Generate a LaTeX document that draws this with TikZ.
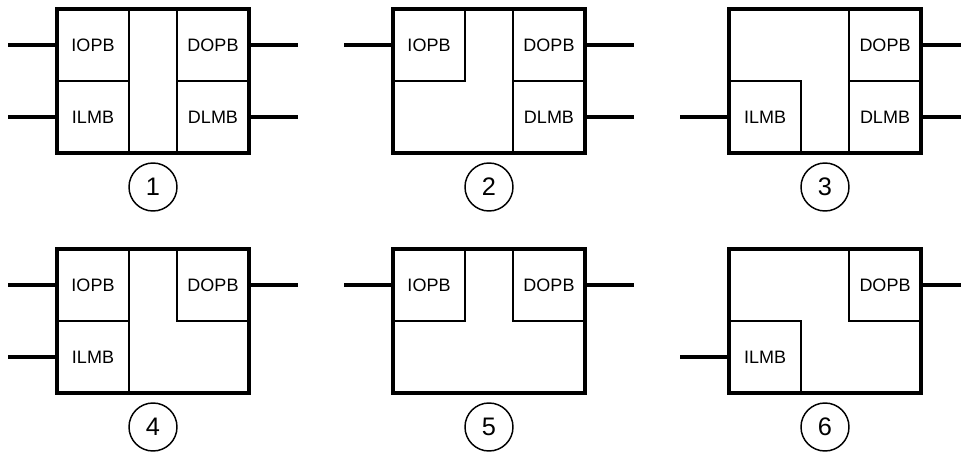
\documentclass[tikz,border=0pt]{standalone}
\usepackage{fontspec}
\setmainfont{Liberation Sans}
\usetikzlibrary{positioning}

\begin{document}
\begin{tikzpicture}[x=0.75pt, y=-0.75pt,
    cell/.style={draw, line width=1.5pt, minimum width=54pt, minimum height=54pt,
                 inner sep=0pt, outer sep=0pt, font=\fontsize{13.5}{15}\selectfont},
    frame/.style={draw, line width=2.5pt, minimum width=144pt, minimum height=108pt,
                  inner sep=0pt, outer sep=0pt},
    lead/.style={line width=2.3pt},
    num/.style={draw, circle, line width=1.1pt, minimum size=36pt, inner sep=0pt,
                font=\fontsize{19}{21}\selectfont}]
    \clip (0,0) rectangle (961,454);

    % Panel 1
    \begin{scope}[shift={(57,9)}]
        \node[cell] (iopb1) at (36,36) {IOPB};
        \node[cell] (ilmb1) at (36,108) {ILMB};
        \node[cell] (dopb1) at (156,36) {DOPB};
        \node[cell] (dlmb1) at (156,108) {DLMB};
        \node[frame] (box1) at (96,72) {};
        \node[num] (n1) at (96,178) {1};
        \coordinate[left=36.75pt of iopb1] (ia1);
        \coordinate[left=36.75pt of ilmb1] (ib1);
        \coordinate[right=36.75pt of dopb1] (oa1);
        \coordinate[right=36.75pt of dlmb1] (ob1);
        \draw[lead] (ia1) -- (iopb1);
        \draw[lead] (ib1) -- (ilmb1);
        \draw[lead] (dopb1) -- (oa1);
        \draw[lead] (dlmb1) -- (ob1);
    \end{scope}

    % Panel 2
    \begin{scope}[shift={(393,9)}]
        \node[cell] (iopb2) at (36,36) {IOPB};
        \node[cell] (dopb2) at (156,36) {DOPB};
        \node[cell] (dlmb2) at (156,108) {DLMB};
        \node[frame] (box2) at (96,72) {};
        \node[num] (n2) at (96,178) {2};
        \coordinate[left=36.75pt of iopb2] (ia2);
        \coordinate[right=36.75pt of dopb2] (oa2);
        \coordinate[right=36.75pt of dlmb2] (ob2);
        \draw[lead] (ia2) -- (iopb2);
        \draw[lead] (dopb2) -- (oa2);
        \draw[lead] (dlmb2) -- (ob2);
    \end{scope}

    % Panel 3
    \begin{scope}[shift={(729,9)}]
        \node[cell] (ilmb3) at (36,108) {ILMB};
        \node[cell] (dopb3) at (156,36) {DOPB};
        \node[cell] (dlmb3) at (156,108) {DLMB};
        \node[frame] (box3) at (96,72) {};
        \node[num] (n3) at (96,178) {3};
        \coordinate[left=36.75pt of ilmb3] (ib3);
        \coordinate[right=36.75pt of dopb3] (oa3);
        \coordinate[right=36.75pt of dlmb3] (ob3);
        \draw[lead] (ib3) -- (ilmb3);
        \draw[lead] (dopb3) -- (oa3);
        \draw[lead] (dlmb3) -- (ob3);
    \end{scope}

    % Panel 4
    \begin{scope}[shift={(57,249)}]
        \node[cell] (iopb4) at (36,36) {IOPB};
        \node[cell] (ilmb4) at (36,108) {ILMB};
        \node[cell] (dopb4) at (156,36) {DOPB};
        \node[frame] (box4) at (96,72) {};
        \node[num] (n4) at (96,178) {4};
        \coordinate[left=36.75pt of iopb4] (ia4);
        \coordinate[left=36.75pt of ilmb4] (ib4);
        \coordinate[right=36.75pt of dopb4] (oa4);
        \draw[lead] (ia4) -- (iopb4);
        \draw[lead] (ib4) -- (ilmb4);
        \draw[lead] (dopb4) -- (oa4);
    \end{scope}

    % Panel 5
    \begin{scope}[shift={(393,249)}]
        \node[cell] (iopb5) at (36,36) {IOPB};
        \node[cell] (dopb5) at (156,36) {DOPB};
        \node[frame] (box5) at (96,72) {};
        \node[num] (n5) at (96,178) {5};
        \coordinate[left=36.75pt of iopb5] (ia5);
        \coordinate[right=36.75pt of dopb5] (oa5);
        \draw[lead] (ia5) -- (iopb5);
        \draw[lead] (dopb5) -- (oa5);
    \end{scope}

    % Panel 6
    \begin{scope}[shift={(729,249)}]
        \node[cell] (ilmb6) at (36,108) {ILMB};
        \node[cell] (dopb6) at (156,36) {DOPB};
        \node[frame] (box6) at (96,72) {};
        \node[num] (n6) at (96,178) {6};
        \coordinate[left=36.75pt of ilmb6] (ib6);
        \coordinate[right=36.75pt of dopb6] (oa6);
        \draw[lead] (ib6) -- (ilmb6);
        \draw[lead] (dopb6) -- (oa6);
    \end{scope}
\end{tikzpicture}
\end{document}
